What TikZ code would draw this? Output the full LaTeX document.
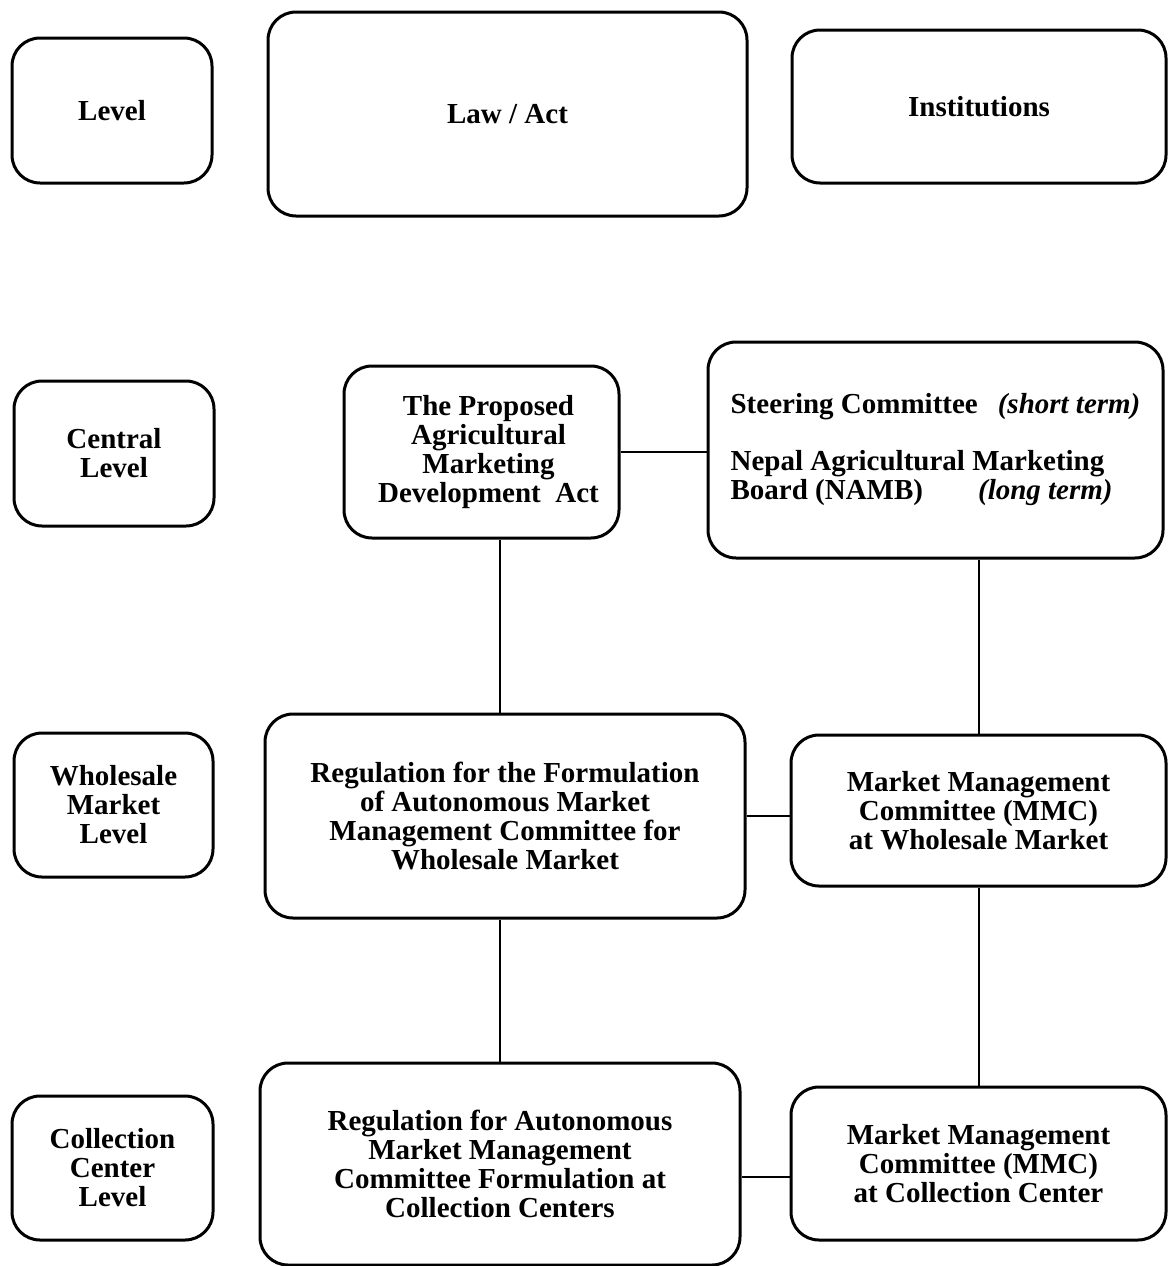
\documentclass[tikz,border=0pt]{standalone}
\usepackage{fontspec}
\setmainfont{Liberation Serif}
\begin{document}
\begin{tikzpicture}[x=1pt,y=-1pt,
  box/.style={draw, line width=3pt, rounded corners=28pt, inner sep=0pt,
    align=center, font=\bfseries\fontsize{29}{29}\selectfont},
  link/.style={line width=2pt}]
\useasboundingbox (0,0) rectangle (1168,1266);

% header row
\node[box, minimum width=200pt, minimum height=145pt] (level) at (112,110.5) {Level};
\node[box, minimum width=479pt, minimum height=204pt] (law) at (507.5,114) {Law / Act};
\node[box, minimum width=374pt, minimum height=153pt] (inst) at (979,106.5) {Institutions};

% central level
\node[box, minimum width=200pt, minimum height=145pt] (central) at (114,453.5) {Central\\Level};
\node[box, minimum width=275pt, minimum height=172pt] (act) at (481.5,452)
  {\hspace*{14pt}The Proposed\\\hspace*{14pt}Agricultural\\\hspace*{14pt}Marketing\\\hspace*{14pt}Development~ Act};
\node[box, minimum width=455pt, minimum height=216pt, align=left] (steer) at (935.5,450)
  {Steering Committee\hspace{20pt}\textit{(short term)}\\[28pt]
   Nepal Agricultural Marketing\\Board (NAMB)\hspace{55pt}\textit{(long term)}};

% wholesale market level
\node[box, minimum width=199pt, minimum height=144pt] (wholesale) at (113.5,805) {Wholesale\\Market\\Level};
\node[box, minimum width=480pt, minimum height=204pt] (regw) at (505,816)
  {Regulation for the Formulation\\of Autonomous Market\\Management Committee for\\Wholesale Market};
\node[box, minimum width=375pt, minimum height=151pt] (mmcw) at (978.5,810.5)
  {Market Management\\Committee (MMC)\\at Wholesale Market};

% collection center level
\node[box, minimum width=201pt, minimum height=144pt] (coll) at (112.5,1168) {Collection\\Center\\Level};
\node[box, minimum width=480pt, minimum height=202pt] (regc) at (500,1164)
  {Regulation for Autonomous\\Market Management\\Committee Formulation at\\Collection Centers};
\node[box, minimum width=375pt, minimum height=153pt] (mmcc) at (978.5,1163.5)
  {Market Management\\Committee (MMC)\\at Collection Center};

% connectors
\draw[link] (act.east) -- (act.east -| steer.west);
\draw[link] (act.south -| regc.north) -- (regw.north -| regc.north);
\draw[link] (steer.south -| mmcw.north) -- (mmcw.north);
\draw[link] (regw.east) -- (regw.east -| mmcw.west);
\draw[link] (regw.south -| regc.north) -- (regc.north);
\draw[link] (mmcw.south) -- (mmcc.north);
\draw[link] ([yshift=-13pt]regc.east) -- ([yshift=-13pt]regc.east -| mmcc.west);
\end{tikzpicture}
\end{document}
